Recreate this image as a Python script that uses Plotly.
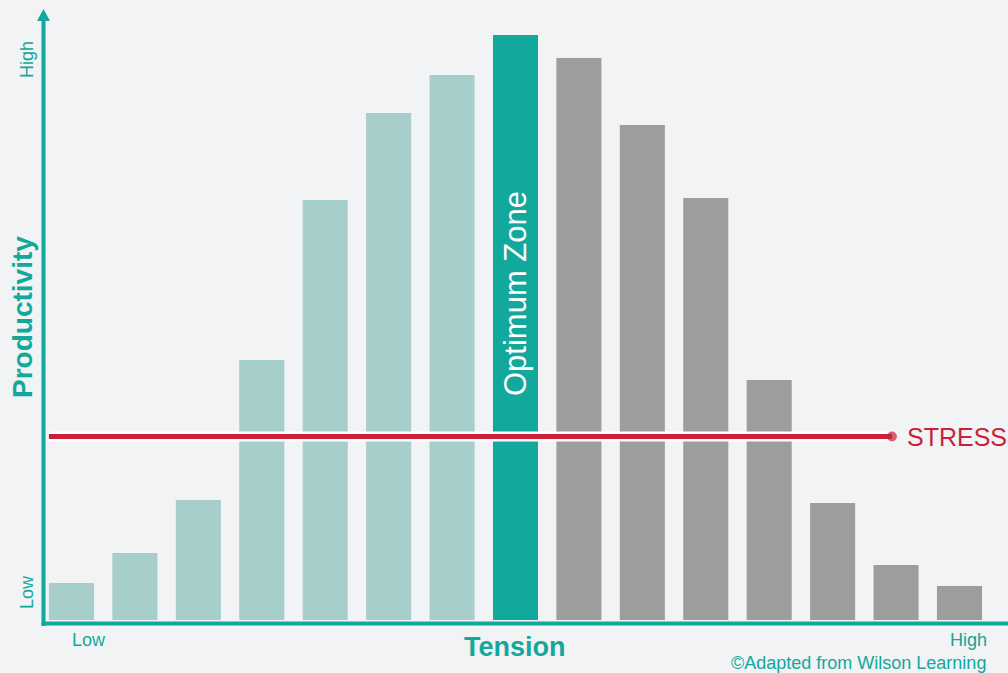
import plotly.graph_objects as go

# ---- data ----
tension_steps = list(range(1, 16))
productivity = [37, 67, 120, 260, 420, 507, 545, 585, 562, 495, 422, 240, 117, 55, 34]
zone = ["low"] * 7 + ["optimum"] + ["high"] * 7
stress_level = 183.5
stress_span = [0.645, 13.935]

# ---- style ----
BG = "#f1f3f5"
TEAL = "#13a89c"
LIGHT = "#a6cecb"
GRAY = "#9c9d9d"
RED = "#cc1f3a"
FONT = "Liberation Sans, Arial, sans-serif"
zone_colors = {"low": LIGHT, "optimum": TEAL, "high": GRAY}

W, H = 1008, 673
L, R, T, B = 43, 0, 10, 53
PW, PH = W - L - R, H - T - B


def px(x):
    return (x - L) / PW


def py(y):
    return (H - B - y) / PH


fig = go.Figure()
fig.add_trace(go.Bar(
    x=tension_steps, y=productivity,
    marker=dict(color=[zone_colors[z] for z in zone], line=dict(width=0)),
    width=0.71, hoverinfo="skip", showlegend=False,
))

# white band behind stress line
fig.add_trace(go.Scatter(
    x=stress_span, y=[stress_level, stress_level],
    mode="lines", line=dict(color="white", width=10),
    hoverinfo="skip", showlegend=False,
))
fig.add_trace(go.Scatter(
    x=stress_span, y=[stress_level, stress_level],
    mode="lines+markers",
    line=dict(color=RED, width=5),
    marker=dict(size=[0, 10], color=RED, line=dict(width=0)),
    hoverinfo="skip", showlegend=False,
))

# axes lines
fig.add_shape(type="line", xref="paper", yref="paper",
              x0=px(43.5), x1=px(43.5), y0=py(626), y1=py(18),
              line=dict(color=TEAL, width=4))
fig.add_shape(type="line", xref="paper", yref="paper",
              x0=px(41.5), x1=px(1008), y0=py(623.5), y1=py(623.5),
              line=dict(color=TEAL, width=4))
fig.add_shape(type="path", xref="paper", yref="paper",
              path=f"M {px(43.5)} {py(9)} L {px(37)} {py(21)} L {px(50)} {py(21)} Z",
              fillcolor=TEAL, line=dict(width=0))

ann = []
ann.append(dict(text="STRESS", xref="paper", yref="y", x=px(905), y=stress_level,
                xanchor="left", yanchor="middle", showarrow=False,
                font=dict(family=FONT, size=25, color=RED)))
ann.append(dict(text="Optimum Zone", xref="x", yref="paper", x=8, y=py(293.5),
                textangle=-90, showarrow=False, xanchor="center", yanchor="middle",
                font=dict(family=FONT, size=31, color="white")))
ann.append(dict(text="<b>Productivity</b>", xref="paper", yref="paper", x=px(22), y=py(317),
                textangle=-90, showarrow=False, xanchor="center", yanchor="middle",
                font=dict(family=FONT, size=28, color=TEAL)))
ann.append(dict(text="<b>Tension</b>", xref="paper", yref="paper", x=px(515), y=py(647),
                showarrow=False, xanchor="center", yanchor="middle",
                font=dict(family=FONT, size=27, color=TEAL)))
ann.append(dict(text="High", xref="paper", yref="paper", x=px(27), y=py(60),
                textangle=-90, showarrow=False, xanchor="center", yanchor="middle",
                font=dict(family=FONT, size=18, color=TEAL)))
ann.append(dict(text="Low", xref="paper", yref="paper", x=px(27), y=py(592),
                textangle=-90, showarrow=False, xanchor="center", yanchor="middle",
                font=dict(family=FONT, size=18, color=TEAL)))
ann.append(dict(text="Low", xref="paper", yref="paper", x=px(89), y=py(640),
                showarrow=False, xanchor="center", yanchor="middle",
                font=dict(family=FONT, size=18, color=TEAL)))
ann.append(dict(text="High", xref="paper", yref="paper", x=px(968), y=py(640),
                showarrow=False, xanchor="center", yanchor="middle",
                font=dict(family=FONT, size=18, color=TEAL)))
ann.append(dict(text="©Adapted from Wilson Learning", xref="paper", yref="paper",
                x=px(988), y=py(663), showarrow=False, xanchor="right", yanchor="middle",
                font=dict(family=FONT, size=18, color=TEAL)))

fig.update_layout(
    width=W, height=H,
    margin=dict(l=L, r=R, t=T, b=B, pad=0),
    paper_bgcolor=BG, plot_bgcolor=BG,
    bargap=0.29,
    xaxis=dict(range=[0.5507, 15.765], visible=False, fixedrange=True),
    yaxis=dict(range=[0, PH], visible=False, fixedrange=True),
    annotations=ann,
    font=dict(family=FONT, color=TEAL),
)

fig.write_html("out.html", config={"displayModeBar": False})
